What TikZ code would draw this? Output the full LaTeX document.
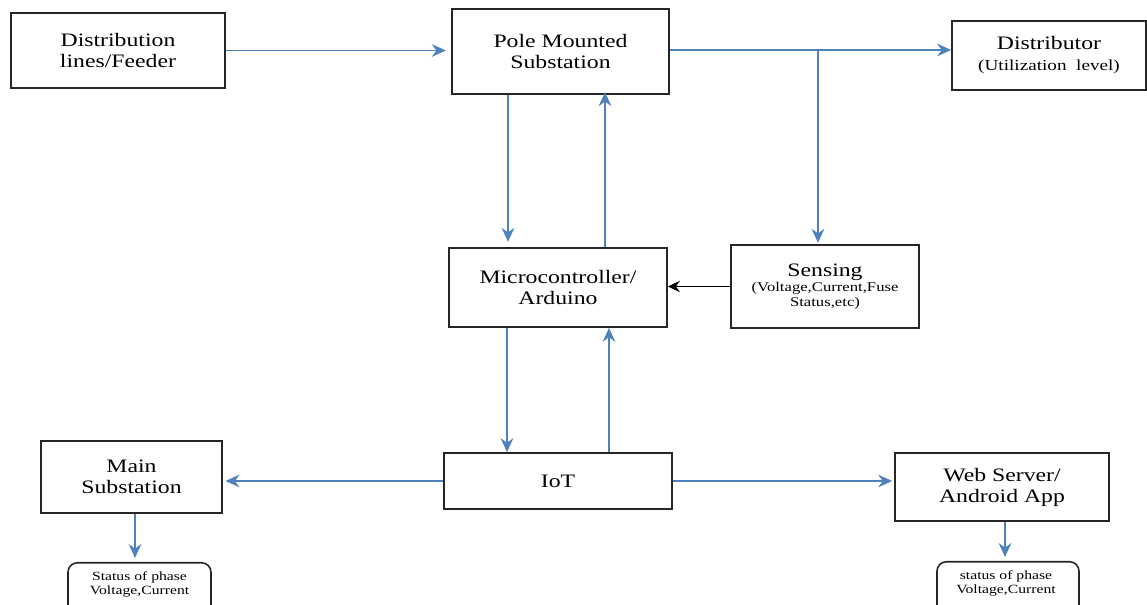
\documentclass[tikz,border=0pt]{standalone}
\usepackage{fontspec}
\setmainfont{Liberation Serif}[FakeStretch=1.25]
\usetikzlibrary{arrows.meta}
\definecolor{arrblue}{HTML}{4F81BD}
\newdimen\px \px=0.75pt
\newcommand{\mainsz}{\fontsize{14.25pt}{15.75pt}\selectfont}
\newcommand{\midsz}{\fontsize{11.5pt}{12pt}\selectfont}
\newcommand{\smallsz}{\fontsize{10pt}{11.3pt}\selectfont}
\newcommand{\tinysz}{\fontsize{9.4pt}{9.9pt}\selectfont}
\begin{document}
\begin{tikzpicture}[x=0.75pt,y=-0.75pt,
  box/.style={draw=black!85, line width=1.3pt, align=center, inner sep=0pt, font=\mainsz},
  rbox/.style={draw=black!85, line width=1.2pt, rounded corners=7pt, align=center, inner sep=0pt, font=\tinysz},
  arr/.style={draw=arrblue, line width=1.1pt, -{Stealth[length=10.5pt,width=9.5pt,inset=3.5pt]}},
  barr/.style={draw=black, line width=1pt, -{Stealth[length=9pt,width=8.5pt,inset=3pt]}}]
\useasboundingbox (0,0) rectangle (1147,605);
\clip (0,0) rectangle (1147,605);
% nodes
\node[box, minimum width=214\px, minimum height=75\px] (dist) at (118,50.5) {Distribution\\lines/Feeder};
\node[box, minimum width=217\px, minimum height=85\px] (pole) at (560.5,51.5) {Pole Mounted\\Substation};
\node[box, minimum width=194\px, minimum height=69\px] (distrib) at (1049,55.5) {Distributor\\{\midsz(Utilization\ \ level)}};
\node[box, minimum width=188\px, minimum height=83\px, font=\smallsz] (sens) at (825,286.5) {{\mainsz Sensing}\\(Voltage,Current,Fuse\\Status,etc)};
\node[box, minimum width=218\px, minimum height=79\px] (micro) at (558,287.5) {Microcontroller/\\Arduino};
\node[box, minimum width=228\px, minimum height=56\px] (iot) at (558,481) {IoT};
\node[box, minimum width=181\px, minimum height=72\px] (main) at (131.5,477) {Main\\Substation};
\node[box, minimum width=214\px, minimum height=68\px] (web) at (1002,487) {Web Server/\\Android App};
\node[rbox, minimum width=143\px, minimum height=56\px, anchor=north] (statL) at (139.5,562) {};
\node[rbox, minimum width=142\px, minimum height=56\px, anchor=north] (statR) at (1008,561) {};
\node[font=\tinysz, align=center, inner sep=0pt] (statLt) at (139.5,584.5) {Status of phase\\Voltage,Current};
\node[font=\tinysz, align=center, inner sep=0pt] (statRt) at (1006,583.5) {status of phase\\Voltage,Current};
% helper coordinates
\coordinate (br) at (818,50);
\coordinate (pd) at (508,0);
\coordinate (pu) at (605,0);
\coordinate (id) at (507,0);
\coordinate (iu) at (609,0);
\coordinate (ml) at (135,0);
\coordinate (wr) at (1005,0);
% connectors
\draw[arr, shorten >=4pt] (dist.east) -- (dist.east -| pole.west);
\draw[arr] (pole.east |- br) -- (distrib.west |- br);
\draw[arr, shorten >=1pt] (br) -- (br |- sens.north);
\draw[arr, shorten >=4pt] (pole.south -| pd) -- (micro.north -| pd);
\draw[arr, shorten >=-2pt] (micro.north -| pu) -- (pole.south -| pu);
\draw[arr] (micro.south -| id) -- (iot.north -| id);
\draw[arr] (iot.north -| iu) -- (micro.south -| iu);
\draw[barr] (sens.west) -- (sens.west -| micro.east);
\draw[arr, shorten >=2pt] (iot.west) -- (iot.west -| main.east);
\draw[arr, shorten >=1.5pt] (iot.east) -- (iot.east -| web.west);
\draw[arr, shorten >=3pt] (main.south -| ml) -- (statL.north -| ml);
\draw[arr, shorten >=3pt] (web.south -| wr) -- (statR.north -| wr);
\end{tikzpicture}
\end{document}
